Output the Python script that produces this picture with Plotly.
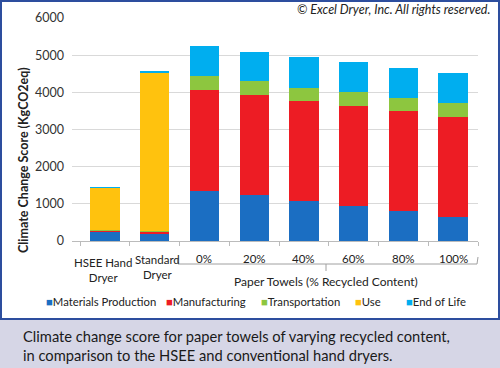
import plotly.graph_objects as go

categories = ["HSEE Hand Dryer", "Standard Dryer", "0%", "20%", "40%", "60%", "80%", "100%"]
cat_labels = ["HSEE Hand<br>Dryer", "Standard<br>Dryer", "0%", "20%", "40%", "60%", "80%", "100%"]
materials = [233, 215, 1350, 1230, 1070, 930, 800, 640]
manufacturing = [55, 40, 2710, 2695, 2700, 2700, 2690, 2700]
transportation = [8, 8, 375, 370, 360, 370, 365, 370]
use = [1130, 4275, 0, 0, 0, 0, 0, 0]
end_of_life = [12, 15, 800, 795, 808, 805, 805, 805]

series = [
    ("Materials Production", materials, "#1B6EC2"),
    ("Manufacturing", manufacturing, "#ED1C24"),
    ("Transportation", transportation, "#8DC63F"),
    ("Use", use, "#FFC20E"),
    ("End of Life", end_of_life, "#00AEEF"),
]

FONT = "Lato"
L, R, T, B = 72, 22, 18, 127
W, H = 500, 368
PW = W - L - R
PH = H - T - B


def px(x):
    return (x - L) / PW


def py(y):
    return (H - B - y) / PH


fig = go.Figure()
for name, vals, col in series:
    fig.add_trace(go.Bar(x=categories, y=vals, name=name, marker=dict(color=col, line=dict(width=0)),
                         showlegend=False, hoverinfo="skip"))

fig.update_layout(
    width=W, height=H, barmode="stack", bargap=0.41,
    margin=dict(l=L, r=R, t=T, b=B, autoexpand=False),
    plot_bgcolor="white", paper_bgcolor="white",
    font=dict(family=FONT, size=12, color="#222222"),
    xaxis=dict(showticklabels=False, ticks="outside", tickson="boundaries", ticklen=4,
               tickcolor="#BBBBBB", showline=True, linecolor="#BBBBBB", linewidth=1,
               showgrid=False, categoryorder="array", categoryarray=categories),
    yaxis=dict(range=[0, 6000], dtick=1000, showgrid=True, gridcolor="#D9D9D9", gridwidth=1,
               zeroline=False, showline=False, ticks="", tickfont=dict(size=12.5, color="#333333"),
               ticklabelstandoff=7),
)

annotations = []
for c, lab in zip(categories, cat_labels):
    shift = 0
    if "<br>" in lab:
        yc = 270 if c.startswith("HSEE") else 267
        shift = -2 if c.startswith("HSEE") else 3
    else:
        yc = 258
    annotations.append(dict(x=c, xref="x", y=py(yc), yref="paper", text=lab, showarrow=False,
                            xshift=shift, xanchor="center", yanchor="middle",
                            font=dict(size=11.5, color="#222222")))
annotations.append(dict(x=px(326), xref="paper", y=py(281), yref="paper",
                        text="Paper Towels (% Recycled Content)", showarrow=False,
                        xanchor="center", yanchor="middle", font=dict(size=12, color="#222222")))
annotations.append(dict(x=px(23), xref="paper", y=py(160), yref="paper",
                        text="<b>Climate Change Score (KgCO2eq)</b>", textangle=-90, showarrow=False,
                        xanchor="center", yanchor="middle", font=dict(size=12.5, color="#222222")))
annotations.append(dict(x=px(492), xref="paper", y=py(9), yref="paper",
                        text="<i>© Excel Dryer, Inc. All rights reserved.</i>", showarrow=False,
                        xanchor="right", yanchor="middle", font=dict(size=12.5, color="#222222")))
leg_x = [44, 164, 259, 353, 404]
for (name, vals, col), lx in zip(series, leg_x):
    annotations.append(dict(x=px(lx), xref="paper", y=py(301), yref="paper",
                            text=f"<span style='color:{col}'>■</span>{name}", showarrow=False,
                            xanchor="left", yanchor="middle", font=dict(size=11.3, color="#222222")))
annotations.append(dict(x=px(21), xref="paper", y=py(345), yref="paper",
                        text="Climate change score for paper towels of varying recycled content,<br>"
                             "in comparison to the HSEE and conventional hand dryers.",
                        showarrow=False, xanchor="left", yanchor="middle", align="left",
                        font=dict(size=14.7, color="#1A1A1A")))

shapes = [
    dict(type="rect", xref="paper", yref="paper", x0=px(0), x1=px(W), y0=py(H), y1=py(319),
         fillcolor="#D6D6E6", line=dict(width=0), layer="below"),
    dict(type="rect", xref="paper", yref="paper", x0=px(1), x1=px(499), y0=py(319), y1=py(1),
         line=dict(color="#2D4E9E", width=2), fillcolor="rgba(0,0,0,0)"),
    dict(type="path", xref="paper", yref="paper",
         path=f"M {px(177)} {py(258)} L {px(178)} {py(264)} L {px(477)} {py(264)} L {px(478)} {py(257)}",
         line=dict(color="#A0A0A0", width=1)),
    dict(type="line", xref="paper", yref="paper", x0=px(326), x1=px(326), y0=py(264), y1=py(271),
         line=dict(color="#A0A0A0", width=1)),
]

fig.update_layout(annotations=annotations, shapes=shapes)
fig.write_html("out.html", config={"displayModeBar": False},
               post_script="document.body.style.margin='0';document.body.style.padding='0';")
